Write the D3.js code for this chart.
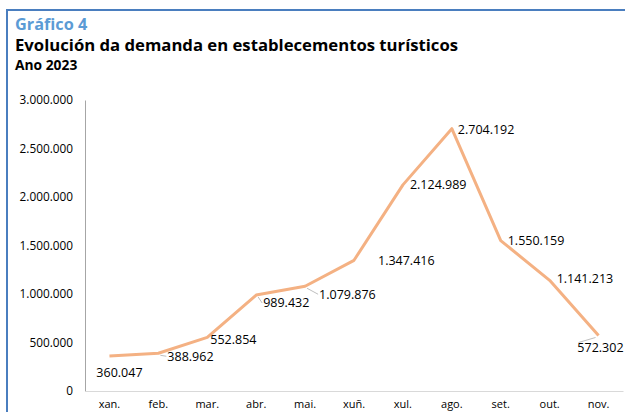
<!DOCTYPE html>
<html><head><meta charset="utf-8">
<script src="https://cdn.jsdelivr.net/npm/d3@7"></script>
<style>body{margin:0;background:#fff}svg{display:block}text{font-family:"Open Sans",sans-serif}</style>
</head><body>
<svg id="c" width="625" height="412"></svg>
<script>
const categories = ["xan.","feb.","mar.","abr.","mai.","xuñ.","xul.","ago.","set.","out.","nov."];
const values = [360047,388962,552854,989432,1079876,1347416,2124989,2704192,1550159,1141213,572302];
const valueLabels = ["360.047","388.962","552.854","989.432","1.079.876","1.347.416","2.124.989","2.704.192","1.550.159","1.141.213","572.302"];
const yTicks = [0,500000,1000000,1500000,2000000,2500000,3000000];
const yTickLabels = ["0","500.000","1.000.000","1.500.000","2.000.000","2.500.000","3.000.000"];
// label offsets [dx, dy, anchor, leader] relative to point
const labelOffsets = [[10,17,"middle",0],[9,3,"start",1],[3,2,"start",0],[7,8,"start",1],[14,8,"start",1],[24,0,"start",0],[7,0,"start",0],[6,1,"start",0],[7,0,"start",0],[7,-2,"start",0],[25,12,"end",1]];

const svg = d3.select("#c");
// frame
svg.append("line").attr("x1",7).attr("x2",625).attr("y1",10).attr("y2",10).attr("stroke","#4a7ebf").attr("stroke-width",2);
svg.append("line").attr("x1",7).attr("x2",7).attr("y1",9).attr("y2",412).attr("stroke","#4a7ebf").attr("stroke-width",2);

svg.append("text").attr("x",15).attr("y",30).attr("fill","#5b9bd5").attr("font-size",16.3).attr("font-weight","bold").text("Gráfico 4");
svg.append("text").attr("x",15).attr("y",51).attr("fill","#000").attr("font-size",16.7).attr("font-weight","bold").text("Evolución da demanda en establecementos turísticos");
svg.append("text").attr("x",15).attr("y",70).attr("fill","#000").attr("font-size",13.8).attr("font-weight","bold").text("Ano 2023");

const x = d3.scaleBand().domain(categories).range([85,623]);
const y = d3.scaleLinear().domain([0,3000000]).range([391,100]);

// y axis
const ya = svg.append("g").attr("transform","translate(85,0)").call(d3.axisLeft(y).tickValues(yTicks).tickFormat((d,i)=>yTickLabels[i]).tickSize(0).tickPadding(12));
ya.select(".domain").attr("stroke","#a6a6a6");
ya.selectAll("text").attr("font-size",11.8).attr("fill","#000").attr("font-family","'Open Sans',sans-serif");

// x axis
const xa = svg.append("g").attr("transform","translate(0,391)").call(d3.axisBottom(x).tickSize(0).tickPadding(9));
xa.select(".domain").attr("stroke","#d9d9d9");
xa.selectAll("text").attr("font-size",11).attr("fill","#000").attr("font-family","'Open Sans',sans-serif");

const pts = values.map((v,i)=>({v, i, cx: x(categories[i])+x.bandwidth()/2, cy: y(v), off: labelOffsets[i], label: valueLabels[i]}));
const line = d3.line().x(d=>d.cx).y(d=>d.cy);

// leader lines
svg.append("g").selectAll("line").data(pts.filter(p=>p.off[3])).join("line")
  .attr("x1",p=>p.cx + (p.off[2]==="end"?-3:2))
  .attr("y1",p=>p.cy + 2)
  .attr("x2",p=>p.off[2]==="end" ? p.cx + p.off[0] - 45 : p.cx + p.off[0] - 1)
  .attr("y2",p=>p.cy + p.off[1] - (p.off[2]==="end"?5:0))
  .attr("stroke","#bfbfbf").attr("stroke-width",1);

svg.append("path").datum(pts).attr("d",line).attr("fill","none").attr("stroke","#f4b183").attr("stroke-width",3).attr("stroke-linejoin","round");

// data labels
svg.append("g").selectAll("text").data(pts).join("text")
  .attr("x",p=>p.cx + p.off[0])
  .attr("y",p=>p.cy + p.off[1])
  .attr("dy","0.35em")
  .attr("text-anchor",p=>p.off[2])
  .attr("font-size",12.5).attr("fill","#000")
  .text(p=>p.label);
</script>
</body></html>
